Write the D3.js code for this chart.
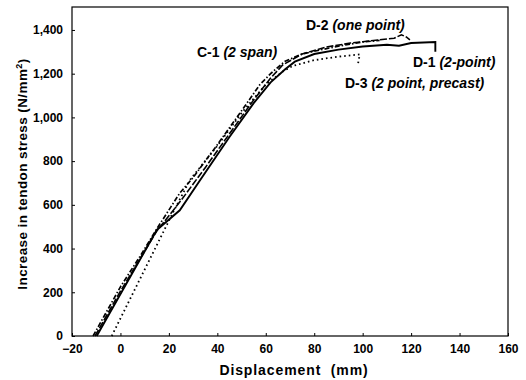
<!DOCTYPE html>
<html>
<head>
<meta charset="utf-8">
<script src="https://cdn.jsdelivr.net/npm/d3@7"></script>
<style>
body { margin: 0; background: #fff; }
svg { font-family: "Liberation Sans", Arial, sans-serif; }
.tick text { font-size: 12px; font-weight: bold; fill: #000; }
.label { font-weight: bold; font-size: 14px; fill: #000; }
</style>
</head>
<body>
<div id="chart"></div>
<script>
// displacement (mm) / stress increase (N/mm2)
let d1Data = [[-9.8,0],[15,485],[24.5,575],[33,715],[45,910],[55,1065],[62,1160],[68,1220],[72,1255],[80,1290],[90,1310],[100,1324],[110,1332],[115,1328],[120,1340],[130,1345],[130,1300]];
let d2Data = [[-10.5,0],[0,205],[15,480],[25,620],[35,770],[45,925],[55,1080],[62,1180],[67,1240],[75,1290],[85,1322],[95,1340],[100,1346],[108,1356],[113,1362],[116,1378],[118,1368],[119.5,1355]];
let d3Data = [[-3.6,0],[21.6,563],[28.7,714],[40,870],[50,1020],[60,1150],[67,1210],[71,1235],[80,1262],[90,1278],[98.8,1288],[98,1240]];
let c1Data = [[-11.3,0],[0,225],[8,363],[15,490],[24.5,654],[30,725],[40,875],[50,1030],[57.5,1149],[62,1200],[67.8,1256],[75,1290],[81,1305],[90,1326],[100,1345],[107,1352]];

let xTicks = [-20, 0, 20, 40, 60, 80, 100, 120, 140, 160];
let yTicks = [0, 200, 400, 600, 800, 1000, 1200, 1400];

let width = 526, height = 380;
let mLeft = 72, mRight = 508, mTop = 7, mBottom = 336;

let svg = d3.select("#chart").append("svg")
    .attr("width", width)
    .attr("height", height);

let x = d3.scaleLinear().domain([-20, 160]).range([mLeft, mRight]);
let y = d3.scaleLinear().domain([0, 1505]).range([mBottom, mTop]);

svg.append("g")
    .attr("transform", "translate(0," + mBottom + ")")
    .call(d3.axisBottom(x).tickValues(xTicks).tickSize(-3).tickPadding(8).tickFormat(d3.format("d")))
    .call(g => g.select(".domain").remove());

svg.append("g")
    .attr("transform", "translate(" + mLeft + ",0)")
    .call(d3.axisLeft(y).tickValues(yTicks).tickSize(-3).tickPadding(9).tickFormat(d3.format(",")))
    .call(g => g.select(".domain").remove());

svg.append("rect")
    .attr("x", mLeft).attr("y", mTop)
    .attr("width", mRight - mLeft).attr("height", mBottom - mTop)
    .attr("fill", "none").attr("stroke", "#000").attr("stroke-width", 1.2);

let line = d3.line().x(d => x(d[0])).y(d => y(d[1]));

let series = [
    { data: d3Data, dash: "1.6,3", w: 1.8 },
    { data: c1Data, dash: "5,2,1.5,2", w: 1.7 },
    { data: d2Data, dash: "7,2", w: 1.6 },
    { data: d1Data, dash: null, w: 1.9 }
];

svg.selectAll(".curve")
    .data(series)
    .enter()
    .append("path")
    .attr("class", "curve")
    .attr("d", d => line(d.data))
    .attr("fill", "none")
    .attr("stroke", "#000")
    .attr("stroke-width", d => d.w)
    .attr("stroke-dasharray", d => d.dash);

let labels = [
    { id: "C-1 ", note: "(2 span)", x: 197, y: 57 },
    { id: "D-2 ", note: "(one point)", x: 306, y: 30 },
    { id: "D-1 ", note: "(2-point)", x: 413, y: 67 },
    { id: "D-3 ", note: "(2 point, precast)", x: 345, y: 88 }
];

labels.forEach(l => {
    let t = svg.append("text").attr("class", "label").attr("x", l.x).attr("y", l.y);
    t.append("tspan").text(l.id);
    t.append("tspan").attr("font-style", "italic").text(l.note);
});

svg.append("text")
    .attr("x", 294)
    .attr("y", 375)
    .attr("text-anchor", "middle")
    .attr("font-size", 14)
    .attr("font-weight", "bold")
    .attr("letter-spacing", 0.9)
    .style("white-space", "pre")
    .text("Displacement  (mm)");

let yl = svg.append("text")
    .attr("transform", "translate(27,174) rotate(-90)")
    .attr("text-anchor", "middle")
    .attr("font-size", 13.5)
    .attr("font-weight", "bold")
    .attr("letter-spacing", 0.4);
yl.append("tspan").text("Increase in tendon stress (N/mm");
yl.append("tspan").attr("dy", -5).attr("font-size", 9).text("2");
yl.append("tspan").attr("dy", 5).text(")");
</script>
</body>
</html>
